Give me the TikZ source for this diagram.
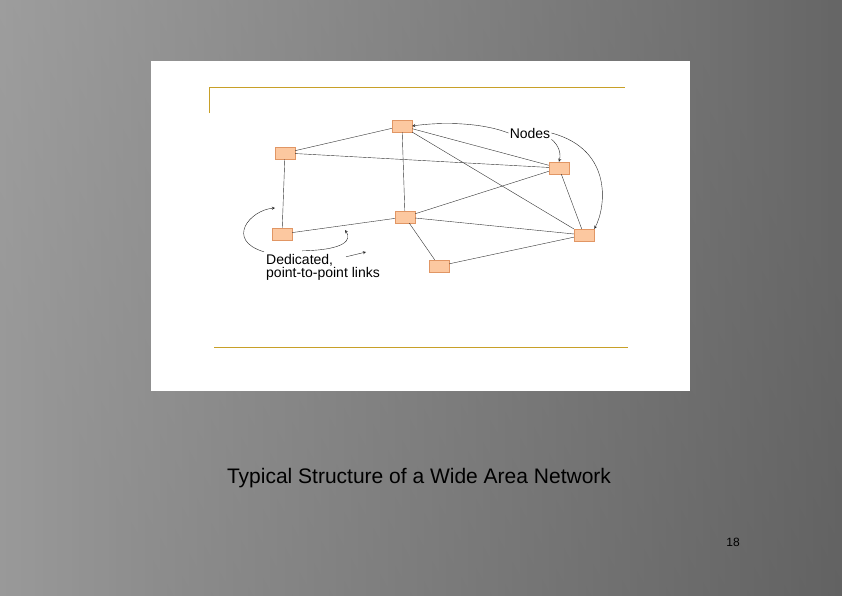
\documentclass[tikz,border=0pt]{standalone}
\usepackage{fontspec}
\setmainfont{Liberation Sans}
\usetikzlibrary{calc}
\definecolor{gold}{RGB}{200,160,40}
\definecolor{boxfill}{RGB}{252,200,160}
\definecolor{boxline}{RGB}{225,150,100}

\begin{document}
\begin{tikzpicture}
      [x=1pt,y=-1pt
      ,box/.style={draw=boxline,fill=boxfill,thin,minimum width=20pt,minimum height=12pt,inner sep=0pt}
      ,link/.style={draw=black!80,thin}
      ,note/.style={->,>=stealth,draw=black!85,thin}
      ,rule/.style={draw=gold,semithick}
      ]
        \useasboundingbox (0,0) rectangle (842,595);
        \shade[top color=black!45,bottom color=black!62,shading angle=-60] (0,0) rectangle (842,595);
        \shade[left color=black!25,right color=black!70,opacity=.6] (0,0) rectangle (842,595);
        \fill[white] (151,61) rectangle (690,391);

        \draw[rule] (209,113) -- (209,87) -- (625,87);
        \draw[rule] (214,347) -- (628,347);

        \node[box] (top)    at (402,126) {};
        \node[box] (left)   at (285,153) {};
        \node[box] (right)  at (559,168) {};
        \node[box] (mid)    at (405,217) {};
        \node[box] (lowl)   at (282,234) {};
        \node[box] (lowr)   at (584,235) {};
        \node[box] (bottom) at (439,266) {};

        \foreach \a/\b in {top/left, top/mid, top/right, top/lowr, left/right, left/lowl, mid/right, mid/lowl, mid/lowr, mid/bottom, right/lowr, bottom/lowr}
            \draw[link] (\a) -- (\b);

        \node[font=\fontsize{14}{15}\selectfont,inner sep=1pt] (nodes) at (530,133) {Nodes};
        \node[font=\fontsize{14}{10}\selectfont,align=left,anchor=west,inner sep=0pt] (links) at (266,267) {Dedicated,\\point-to-point links};

        \coordinate (p1) at (275,208);
        \coordinate (p2) at (345,230);
        \coordinate (p3) at (366,252);

        \draw[note] (nodes.west) .. controls (480,122) and (440,122) .. (top.east);
        \draw[note] (nodes.south east) .. controls (555,142) and (562,150) .. (right.north);
        \draw[note] (nodes.east) .. controls (615,150) and (605,210) .. (lowr.north east);
        \draw[note] ($(links.north west)+(-2,-2)$) .. controls (225,240) and (250,210) .. (p1);
        \draw[note] ($(links.north west)+(36,-3)$) .. controls (345,250) and (352,240) .. (p2);
        \draw[note] ($(links.north east)+(-34,3)$) -- (p3);

        \node[font=\fontsize{21}{23}\selectfont] (caption) at (419,478) {Typical Structure of a Wide Area Network};
        \node[font=\fontsize{12}{13}\selectfont] (page) at (733,542) {18};
\end{tikzpicture}
\end{document}
